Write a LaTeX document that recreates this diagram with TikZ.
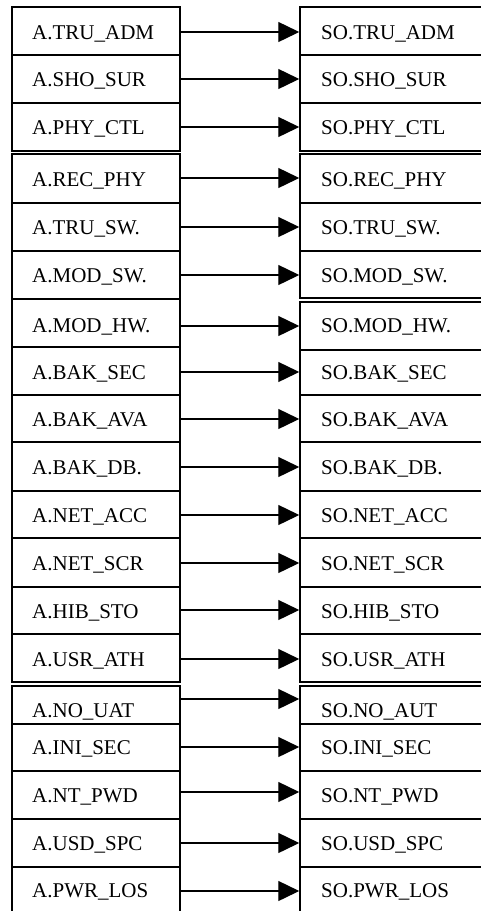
\documentclass[tikz,border=0pt]{standalone}
\usepackage{fontspec}
\setmainfont{Liberation Serif}
\usetikzlibrary{arrows.meta}
\begin{document}
\begin{tikzpicture}[x=1pt,y=-1pt,
  rowbox/.style={draw, line width=1.5pt, rectangle, inner sep=0pt},
  lbl/.style={anchor=base west, inner sep=0pt, font=\fontsize{21}{21}\selectfont},
  conn/.style={line width=1.4pt, -{Triangle[length=21pt,width=20pt]}}]
\useasboundingbox (0,0) rectangle (481,911);
\clip (0,0) rectangle (481,911);
\foreach \k/\la/\lz/\ra/\rz/\ay/\by/\tl/\tr in {
 1/7/55/7/55/32/39/A.TRU\_ADM/SO.TRU\_ADM,
 2/55/103/55/103/79/86/A.SHO\_SUR/SO.SHO\_SUR,
 3/103/151/103/151/127/134/A.PHY\_CTL/SO.PHY\_CTL,
 4/154/203/154/203/178/186/A.REC\_PHY/SO.REC\_PHY,
 5/203/251/203/251/227/234/A.TRU\_SW./SO.TRU\_SW.,
 6/251/299/251/298/275/282/A.MOD\_SW./SO.MOD\_SW.,
 7/299/347/302/350/326/332/A.MOD\_HW./SO.MOD\_HW.,
 8/347/395/350/395/372/379/A.BAK\_SEC/SO.BAK\_SEC,
 9/395/442/395/442/419/426/A.BAK\_AVA/SO.BAK\_AVA,
 10/442/491/442/491/467/474/A.BAK\_DB./SO.BAK\_DB.,
 11/491/538/491/538/515/522/A.NET\_ACC/SO.NET\_ACC,
 12/538/587/538/587/563/570/A.NET\_SCR/SO.NET\_SCR,
 13/587/634/587/634/610/618/A.HIB\_STO/SO.HIB\_STO,
 14/634/682/634/682/659/666/A.USR\_ATH/SO.USR\_ATH,
 15/686/724/686/724/699/717/A.NO\_UAT/SO.NO\_AUT,
 16/724/771/724/771/747/754/A.INI\_SEC/SO.INI\_SEC,
 17/771/819/771/819/792/802/A.NT\_PWD/SO.NT\_PWD,
 18/819/867/819/867/843/850/A.USD\_SPC/SO.USD\_SPC,
 19/867/915/867/915/891/897/A.PWR\_LOS/SO.PWR\_LOS}{
  \pgfmathsetmacro{\lh}{\lz-\la}
  \pgfmathsetmacro{\lc}{(\lz+\la)/2}
  \pgfmathsetmacro{\rh}{\rz-\ra}
  \pgfmathsetmacro{\rc}{(\rz+\ra)/2}
  \node[rowbox, minimum width=168pt, minimum height=\lh pt] (L\k) at (96,\lc) {};
  \node[rowbox, minimum width=190pt, minimum height=\rh pt] (R\k) at (395,\rc) {};
  \node[lbl] (TL\k) at (32,\by) {\tl};
  \node[lbl] (TR\k) at (321,\by) {\tr};
  \coordinate (a\k) at (240,\ay);
  \draw[conn] (L\k.east |- a\k) -- (R\k.west |- a\k);
}
\end{tikzpicture}
\end{document}
